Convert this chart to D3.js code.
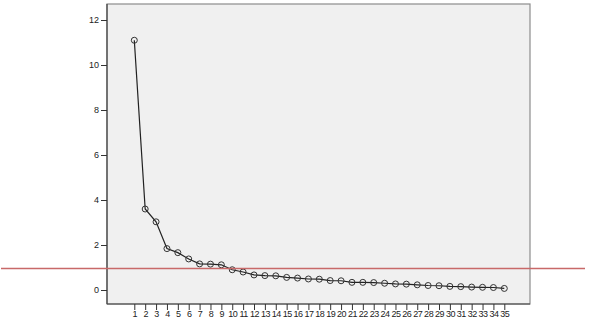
<!DOCTYPE html>
<html>
<head>
<meta charset="utf-8">
<script src="https://cdn.jsdelivr.net/npm/d3@7"></script>
<style>
  body { margin: 0; background: #fff; }
  svg text { font-family: "Liberation Sans", Arial, sans-serif; font-size: 9px; fill: #222; }
</style>
</head>
<body>
<div id="chart"></div>
<script>
// eigenvalues per component (scree plot)
const components = d3.range(1, 36);
const eigenvalues = [11.1, 3.6, 3.03, 1.84, 1.66, 1.38, 1.16, 1.15, 1.12, 0.9,
    0.8, 0.67, 0.64, 0.63, 0.56, 0.53, 0.49, 0.48, 0.42, 0.41,
    0.34, 0.34, 0.33, 0.3, 0.27, 0.26, 0.23, 0.2, 0.19, 0.16,
    0.15, 0.13, 0.12, 0.11, 0.07];
const yTicks = [0, 2, 4, 6, 8, 10, 12];
const cutoff = 1;

let width = 591, height = 320;
let box = {left: 107, top: 4, right: 530, bottom: 304};

var svg = d3.select("#chart")
    .append("svg")
    .attr("width", width)
    .attr("height", height);

var x = d3.scaleLinear()
    .domain([1, 35])
    .range([134.3, 504.3]);

var y = d3.scaleLinear()
    .domain([0, 12])
    .range([290, 20]);

// plot frame
svg.append("rect")
    .attr("x", box.left)
    .attr("y", box.top)
    .attr("width", box.right - box.left)
    .attr("height", box.bottom - box.top)
    .style("fill", "#f0f0f0")
    .style("stroke", "#8c8c8c")
    .style("stroke-width", 1.2);

svg.append("line")
    .attr("x1", box.left).attr("x2", box.left)
    .attr("y1", box.top).attr("y2", box.bottom)
    .style("stroke", "#444").style("stroke-width", 1.2);
svg.append("line")
    .attr("x1", box.left).attr("x2", box.right)
    .attr("y1", box.bottom).attr("y2", box.bottom)
    .style("stroke", "#444").style("stroke-width", 1.2);

// axes
var yAxis = d3.axisLeft(y).tickValues(yTicks).tickSize(6).tickPadding(2);
var gy = svg.append("g")
    .attr("transform", "translate(" + box.left + ",0)")
    .call(yAxis);
gy.select(".domain").remove();
gy.selectAll(".tick line").style("stroke", "#333");

var xAxis = d3.axisBottom(x).tickValues(components).tickSize(6).tickPadding(1).tickFormat(d3.format("d"));
var gx = svg.append("g")
    .attr("transform", "translate(0," + box.bottom + ")")
    .call(xAxis);
gx.select(".domain").remove();
gx.selectAll(".tick line").style("stroke", "#333");
gx.selectAll("text").style("letter-spacing", "-0.5px");
svg.selectAll(".tick text").style("font-size", "9px").style("font-family", "'Liberation Sans', Arial, sans-serif");

// eigenvalue line
var line = d3.line()
    .x((d, i) => x(components[i]))
    .y(d => y(d));

svg.append("path")
    .datum(eigenvalues)
    .attr("d", line)
    .style("fill", "none")
    .style("stroke", "#222")
    .style("stroke-width", 1.2);

svg.append("g")
    .selectAll("circle")
    .data(eigenvalues)
    .enter().append("circle")
    .attr("cx", (d, i) => x(components[i]))
    .attr("cy", d => y(d))
    .attr("r", 3)
    .style("fill", "none")
    .style("stroke", "#333")
    .style("stroke-width", 1);

// reference line at eigenvalue 1
var yc = Math.round(y(cutoff)) + 0.5;
svg.append("line")
    .attr("x1", 1).attr("x2", 585)
    .attr("y1", yc).attr("y2", yc)
    .attr("stroke", "rgb(200,105,105)")
    .attr("stroke-width", 1.5);
</script>
</body>
</html>
